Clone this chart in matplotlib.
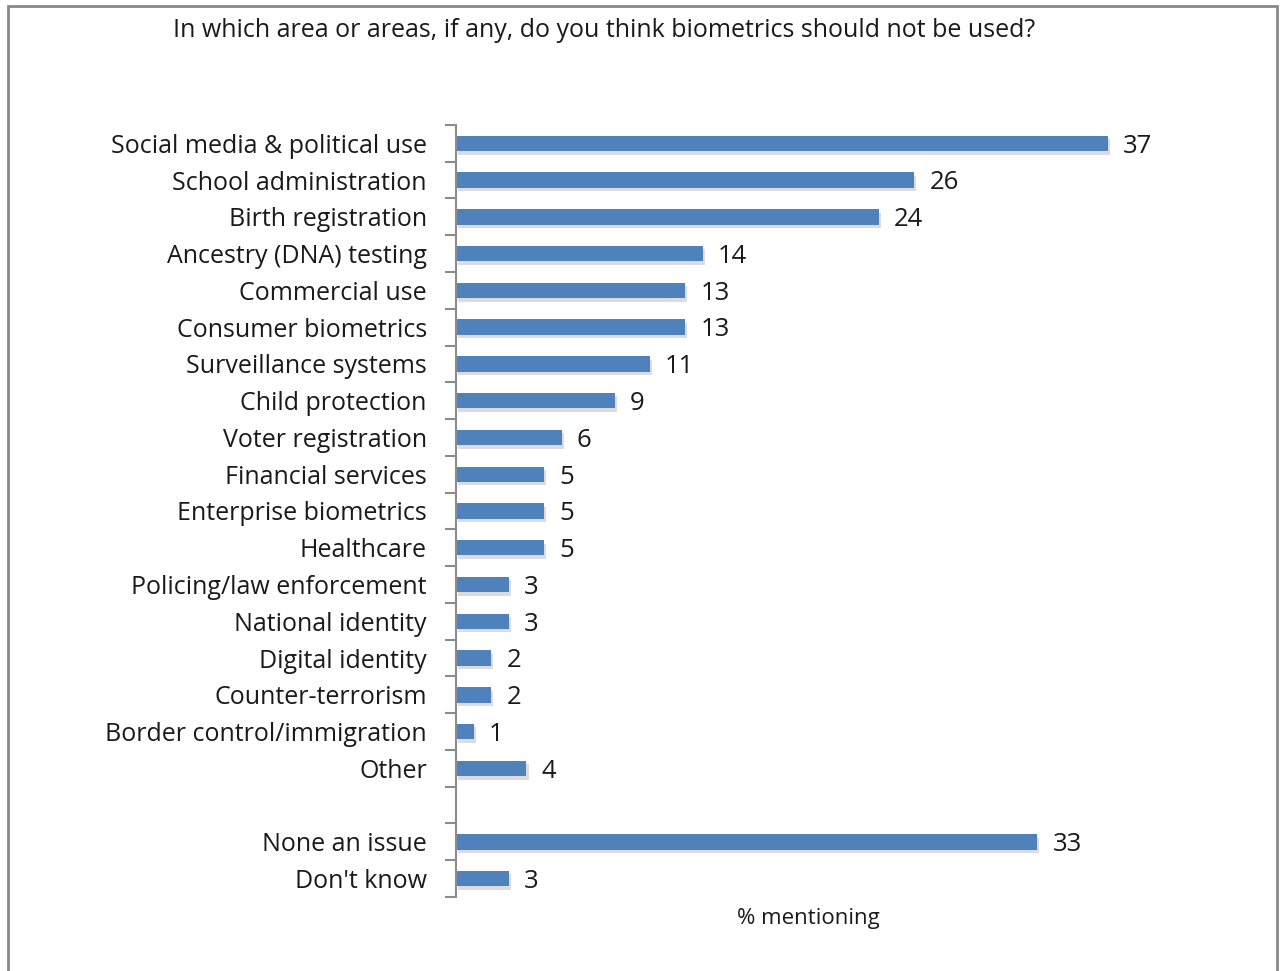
import matplotlib.pyplot as plt
import matplotlib.patheffects as pe
from matplotlib.patches import Rectangle
import numpy as np

title = "In which area or areas, if any, do you think biometrics should not be used?"
xlabel = "% mentioning"

areas = [
    "Social media & political use",
    "School administration",
    "Birth registration",
    "Ancestry (DNA) testing",
    "Commercial use",
    "Consumer biometrics",
    "Surveillance systems",
    "Child protection",
    "Voter registration",
    "Financial services",
    "Enterprise biometrics",
    "Healthcare",
    "Policing/law enforcement",
    "National identity",
    "Digital identity",
    "Counter-terrorism",
    "Border control/immigration",
    "Other",
]
area_values = [37, 26, 24, 14, 13, 13, 11, 9, 6, 5, 5, 5, 3, 3, 2, 2, 1, 4]

other_answers = ["None an issue", "Don't know"]
other_values = [33, 3]

BAR_COLOR = "#4f81bd"
AXIS_GRAY = "#8c8c8c"
TEXT_COLOR = "#1a1a1a"

plt.rcParams["font.family"] = ["Open Sans", "DejaVu Sans"]

# one empty slot separates the two groups
labels = areas + [""] + other_answers
values = area_values + [np.nan] + other_values
pos = np.arange(len(labels))

fig = plt.figure(figsize=(12.81, 9.71), dpi=100)
ax = fig.add_axes([0.356, 0.0762, 0.55, 0.7951])

shadow = [pe.SimplePatchShadow(offset=(1.5, -2.5), shadow_rgbFace="#a8a8a8", alpha=0.4),
          pe.Normal()]
bars = ax.barh(pos, np.nan_to_num(values), height=0.42, color=BAR_COLOR,
               path_effects=shadow)

for y, v in zip(pos, values):
    if np.isnan(v):
        continue
    ax.annotate(f"{v:g}", (v, y), xytext=(11, -2), textcoords="offset points",
                va="center", ha="left", fontsize=18.5, color=TEXT_COLOR)

ax.set_xlim(0, 40)
ax.set_ylim(len(labels) - 0.5, -0.5)

ax.set_yticks(pos)
ax.set_yticklabels(labels, fontsize=18, color=TEXT_COLOR)
ax.tick_params(axis="y", which="major", length=0, pad=21)
ax.set_yticks(np.arange(-0.5, len(labels)), minor=True)
ax.tick_params(axis="y", which="minor", length=8, width=1.5, color=AXIS_GRAY,
               direction="out")
ax.set_xticks([])

for side in ["top", "right", "bottom"]:
    ax.spines[side].set_visible(False)
ax.spines["left"].set_color(AXIS_GRAY)
ax.spines["left"].set_linewidth(1.5)

ax.set_xlabel(xlabel, fontsize=16, color=TEXT_COLOR, labelpad=8)

fig.text(0.4715, 0.969, title, ha="center", va="center", fontsize=18,
         color=TEXT_COLOR)

# outer frame around the whole chart
fig.patches.append(Rectangle((0.0066, -0.01), 0.9906, 1.004, transform=fig.transFigure,
                             fill=False, edgecolor="#888888", linewidth=2))

fig.savefig("out.png", dpi=100)
